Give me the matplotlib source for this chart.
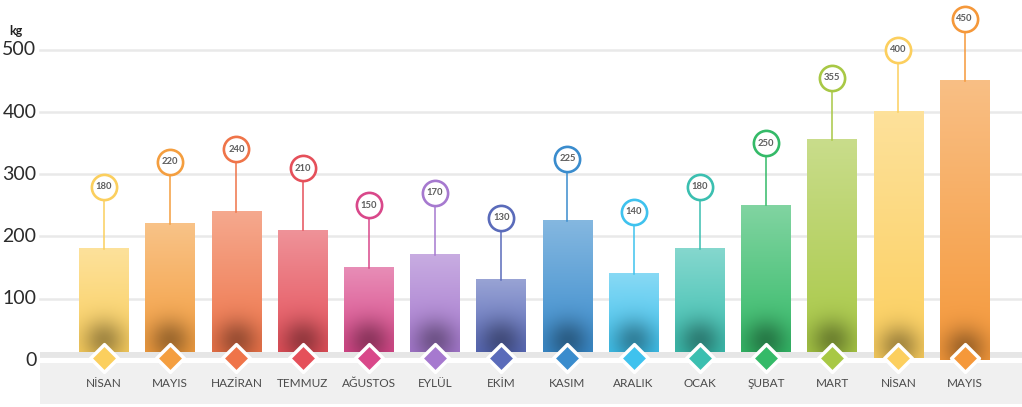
import matplotlib.pyplot as plt
import matplotlib.colors as mcolors
from matplotlib.patches import Rectangle
import numpy as np

plt.rcParams['font.family'] = ['Lato', 'DejaVu Sans']

months = ['NİSAN', 'MAYIS', 'HAZİRAN', 'TEMMUZ', 'AĞUSTOS', 'EYLÜL', 'EKİM',
          'KASIM', 'ARALIK', 'OCAK', 'ŞUBAT', 'MART', 'NİSAN', 'MAYIS']
values = [180, 220, 240, 210, 150, 170, 130, 225, 140, 180, 250, 355, 400, 450]
colors = ['#FBCF5E', '#F49E3F', '#EF7449', '#E5505A', '#D9488A', '#A679CF', '#5A6BBA',
          '#3A8CCD', '#3FC2EE', '#3BBFB0', '#34BA68', '#A8C845', '#FCCF5E', '#F5983A']
yticks = [0, 100, 200, 300, 400, 500]

fig = plt.figure(figsize=(10.22, 4.07), dpi=100)
ax = fig.add_axes([0, 0, 1, 1])
x0, x1 = -1.571, 13.867
y0, y1 = -74, 580
ax.set_xlim(x0, x1)
ax.set_ylim(y0, y1)
ax.axis('off')

px_per_unit = 407 / (y1 - y0)

# horizontal grid
for t in yticks[1:]:
    ax.plot([-0.97, x1], [t, t], color='#E9E9E9', lw=1.8, zorder=1)
for t in yticks:
    ax.text(-1.02, t, str(t), ha='right', va='center', fontsize=14,
            color='#2B2B2B', fontweight='normal', zorder=5)
ax.text(-1.33, 530, 'kg', ha='center', va='center', fontsize=9,
        fontweight='bold', color='#222222')

# grey band under the bars
ax.add_patch(Rectangle((-0.97, 1), x1 + 1, 14, color='#E6E6E6', lw=0, zorder=2))
ax.add_patch(Rectangle((-0.97, -69), x1 + 1, 66, color='#F0F0F0', lw=0, zorder=2))

bw = 0.75
H, W = 300, 60
u = np.linspace(-1, 1, W)[None, :]
for i, (v, c) in enumerate(zip(values, colors)):
    base = 14 if i < 12 else 4 - (i - 12) * 3
    rgb = np.array(mcolors.to_rgb(c))
    t = np.linspace(0, 1, H)[:, None]          # 0 at top, 1 at bottom
    col = rgb[None, None, :] + (1 - rgb[None, None, :]) * (0.38 * (1 - t))[..., None]
    hpx = (v - base) * px_per_unit
    dy = (1 - t) * hpx - 12                    # pixels above shadow centre
    shade = 0.34 * np.exp(-(dy / 20) ** 2) * np.exp(-(u / 0.85) ** 2)
    col = col * (1 - shade[..., None])
    ax.imshow(np.clip(col, 0, 1), extent=[i - bw / 2, i + bw / 2, base, v],
              aspect='auto', interpolation='bilinear', zorder=3)

    # callout with stem
    cy = v + 100
    ax.plot([i, i], [v, cy - 20], color=c, lw=1.1, zorder=3)
    ax.scatter([i], [cy], s=330, facecolor='white', edgecolor=c,
               linewidth=1.9, zorder=4)
    ax.text(i, cy, str(v), ha='center', va='center', fontsize=6.8,
            fontweight='bold', color='#5E5E5E', zorder=5)

    # diamond marker and month label
    ax.scatter([i], [5], marker='D', s=200, facecolor=c, edgecolor='white',
               linewidth=2.5, zorder=6)
    ax.text(i, -37, months[i], ha='center', va='center', fontsize=8.5,
            color='#4A4A4A', zorder=5)

ax.plot([-0.97, x1], [1.5, 1.5], color='white', lw=3, zorder=2.5)

fig.savefig('out.png', dpi=100)
